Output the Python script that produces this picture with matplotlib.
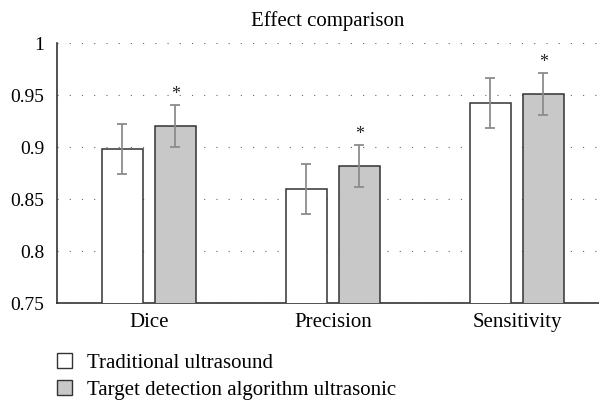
import numpy as np
import matplotlib.pyplot as plt
from matplotlib.patches import Patch

categories = ['Dice', 'Precision', 'Sensitivity']
traditional = [0.898, 0.860, 0.942]
traditional_err = [0.024, 0.024, 0.024]
algorithm = [0.920, 0.882, 0.951]
algorithm_err = [0.020, 0.020, 0.020]
series_names = ['Traditional ultrasound', 'Target detection algorithm ultrasonic']
yticks = [0.75, 0.8, 0.85, 0.9, 0.95, 1.0]
ytick_labels = ['0.75', '0.8', '0.85', '0.9', '0.95', '1']

plt.rcParams['font.family'] = ['Liberation Serif', 'DejaVu Serif']
plt.rcParams['font.size'] = 15

fig = plt.figure(figsize=(5.99, 4.04), dpi=100)
ax = fig.add_axes([57 / 599, 1 - 303 / 404, 542 / 599, 260 / 404])

x = np.arange(len(categories))
w = 0.223
off = 0.144
ekw = dict(ecolor='#8c8c8c', elinewidth=1.3, capsize=3.3, capthick=1.3)
ax.bar(x - off, traditional, w, yerr=traditional_err, color='white',
       edgecolor='#333333', linewidth=1.1, error_kw=ekw, zorder=3)
ax.bar(x + off, algorithm, w, yerr=algorithm_err, color='#c8c8c8',
       edgecolor='#333333', linewidth=1.1, error_kw=ekw, zorder=3)

for xi, v, e in zip(x + off, algorithm, algorithm_err):
    ax.text(xi, v + e + 0.002, '*', ha='center', va='bottom', fontsize=13, color='#222222')

ax.set_ylim(0.75, 1.0)
ax.set_xlim(-0.5, 2.446)
ax.set_yticks(yticks)
ax.set_yticklabels(ytick_labels, fontsize=14)
ax.set_xticks(x)
ax.set_xticklabels(categories, fontsize=15)
ax.tick_params(axis='y', length=0, pad=9)
ax.tick_params(axis='x', length=0, pad=7)
ax.yaxis.grid(True, linestyle=(0, (1, 10)), color='#666666', linewidth=0.8, zorder=0)
ax.set_axisbelow(True)
for s in ['top', 'right']:
    ax.spines[s].set_visible(False)
for s in ['left', 'bottom']:
    ax.spines[s].set_color('#222222')
    ax.spines[s].set_linewidth(1.1)
ax.set_title('Effect comparison', fontsize=15, pad=12)

handles = [Patch(facecolor='white', edgecolor='#333333', linewidth=1),
           Patch(facecolor='#c8c8c8', edgecolor='#333333', linewidth=1)]
fig.legend(handles, series_names, loc='upper left', bbox_to_anchor=(57 / 599, 1 - 353 / 404),
           frameon=False, handlelength=0.72, handleheight=0.72, handletextpad=0.72,
           labelspacing=0.35, borderpad=0, borderaxespad=0, fontsize=15)

fig.savefig('out.png', dpi=100)
